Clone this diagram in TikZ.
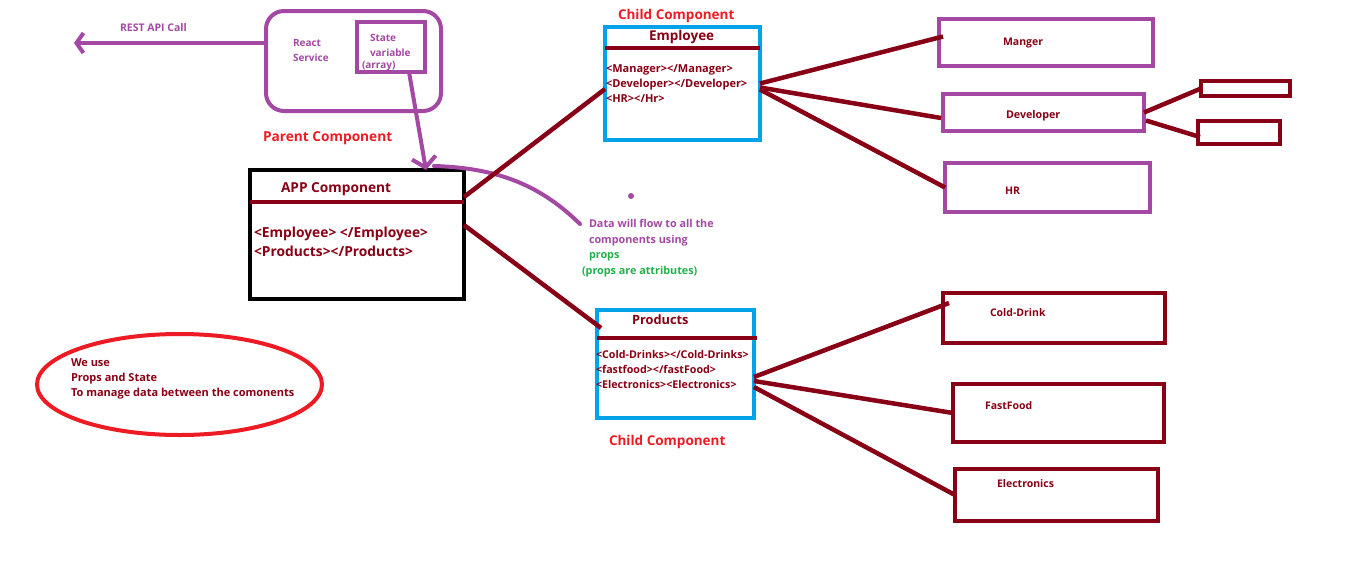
\documentclass[tikz,border=0pt]{standalone}
\usepackage{fontspec}
\setmainfont{Open Sans}
\usetikzlibrary{arrows.meta,calc,shapes.geometric}
\definecolor{ppl}{HTML}{A349A4}
\definecolor{drd}{HTML}{880015}
\definecolor{blu}{HTML}{00A2E8}
\definecolor{rd}{HTML}{ED1C24}
\definecolor{grn}{HTML}{22B14C}
\newcommand\myfs[1]{\fontsize{#1}{#1}\selectfont}
\begin{document}
\begin{tikzpicture}[x=1pt,y=-1pt,
  bx/.style={draw, line width=4pt, inner sep=0, outer sep=0},
  pbox/.style={bx, draw=ppl},
  rbox/.style={bx, draw=drd},
  bbox/.style={bx, draw=blu},
  kbox/.style={bx, draw=black},
  lbl/.style={font=\bfseries\myfs{#1}, inner sep=0, outer sep=0, anchor=mid west, yshift=-2.5pt},
  conn/.style={draw=drd, line width=4.5pt},
  div/.style={draw=drd, line width=4pt}]
\fill[white] (0,0) rectangle (1360,563);
\useasboundingbox (0,0) rectangle (1360,563);

% boxes
\node[pbox, rounded corners=18pt, minimum width=175pt, minimum height=100pt] (svc) at (353.5,61) {};
\node[pbox, minimum width=68pt, minimum height=50pt] (state) at (391,47) {};
\node[kbox, minimum width=214pt, minimum height=129pt] (app) at (357,234.5) {};
\node[bbox, minimum width=155pt, minimum height=113pt] (emp) at (682.5,83.5) {};
\node[bbox, minimum width=157pt, minimum height=108pt] (prod) at (675.5,364) {};
\node[pbox, minimum width=214pt, minimum height=47pt] (mgr) at (1046,42.5) {};
\node[pbox, minimum width=201pt, minimum height=37pt] (dev) at (1043.5,112.5) {};
\node[pbox, minimum width=205pt, minimum height=49pt] (hr) at (1047.5,187.5) {};
\node[rbox, minimum width=89pt, minimum height=15pt] (d1) at (1245.5,88.5) {};
\node[rbox, minimum width=82pt, minimum height=23pt] (d2) at (1239,132.5) {};
\node[rbox, minimum width=222pt, minimum height=50pt] (cold) at (1054,318) {};
\node[rbox, minimum width=211pt, minimum height=58pt] (fast) at (1058.5,413) {};
\node[rbox, minimum width=203pt, minimum height=52pt] (elec) at (1056.5,495) {};
\node[ellipse, draw=rd, line width=4pt, inner sep=0, outer sep=0, minimum width=285pt, minimum height=101pt] (note) at (179.5,384.5) {};

% dividers
\draw[div] ([yshift=-32pt]app.north west) -- ([yshift=-32pt]app.north east);
\draw[div] ([yshift=-21pt]emp.north west) -- ([yshift=-21pt]emp.north east);
\draw[div] ([yshift=-28pt]prod.north west) -- ([yshift=-28pt,xshift=3pt]prod.north east);

% texts
\node[lbl=10.5, text=ppl] (restlbl) at (120,26) {REST API Call};
\node[lbl=10, text=ppl] (react) at (293,41) {React};
\node[lbl=10, text=ppl] (service) at (293,56) {Service};
\node[lbl=10, text=ppl] (st1) at (370,36) {State};
\node[lbl=10, text=ppl] (st2) at (370,51) {variable};
\node[lbl=10, text=ppl] (st3) at (362,63) {(array)};
\node[lbl=13.7, text=rd] (parent) at (263,136) {Parent Component};
\node[lbl=13.7, text=drd] (apptitle) at (281,187) {APP Component};
\node[lbl=13.8, text=drd] (appl1) at (254,232) {<Employee> </Employee>};
\node[lbl=13.8, text=drd] (appl2) at (254,251) {<Products></Products>};
\node[lbl=13.5, text=rd] (child1) at (618,14) {Child Component};
\node[lbl=13.5, text=drd] (emptitle) at (649,35) {Employee};
\node[lbl=11, text=drd] (e1) at (606,67) {<Manager></Manager>};
\node[lbl=11, text=drd] (e2) at (606,82) {<Developer></Developer>};
\node[lbl=11, text=drd] (e3) at (606,97) {<HR></Hr>};
\node[lbl=12.8, text=drd] (prodtitle) at (632,319) {Products};
\node[lbl=10.7, text=drd] (p1) at (596,353) {<Cold-Drinks></Cold-Drinks>};
\node[lbl=10.7, text=drd] (p2) at (596,368) {<fastfood></fastFood>};
\node[lbl=10.7, text=drd] (p3) at (596,383) {<Electronics><Electronics>};
\node[lbl=13.5, text=rd] (child2) at (609,440) {Child Component};
\node[lbl=10.5, text=drd] (mgrt) at (1003,40) {Manger};
\node[lbl=10.7, text=drd] (devt) at (1006,113) {Developer};
\node[lbl=10.5, text=drd] (hrt) at (1005,189) {HR};
\node[lbl=10.5, text=drd] (coldt) at (990,311) {Cold-Drink};
\node[lbl=10.5, text=drd] (fastt) at (985,404) {FastFood};
\node[lbl=10.5, text=drd] (elect) at (997,482) {Electronics};
\node[lbl=10.8, text=ppl] (data1) at (589,222) {Data will flow to all the};
\node[lbl=10.8, text=ppl] (data2) at (589,238) {components using};
\node[lbl=10.8, text=grn] (data3) at (589,253) {props};
\node[lbl=10.8, text=grn] (data4) at (582,269) {(props are attributes)};
\node[lbl=11, text=drd] (n1) at (71,361) {We use};
\node[lbl=11, text=drd] (n2) at (71,376) {Props and State};
\node[lbl=11, text=drd] (n3) at (71,391) {To manage data between the comonents};
\node[circle, fill=ppl, inner sep=0, minimum size=6pt] (dot) at (631,196) {};

% purple arrows and curve
\coordinate (restend) at (74,43);
\coordinate (dataend) at (580,224);
\draw[ppl, line width=4pt, -{Straight Barb[length=7pt,width=20pt]}] ([yshift=18pt]svc.west) -- (restend);
\draw[ppl, line width=4pt, -{Straight Barb[length=10pt,width=24pt]}] ([xshift=18pt]state.south) -- ([xshift=69pt]app.north);
\draw[ppl, line width=4pt, line cap=round] ([xshift=77pt,yshift=4pt]app.north) .. controls (505,168) and (545,190) .. (dataend);

% dark red connectors
\draw[conn] ([yshift=-27pt]app.north east) -- ([yshift=-5.5pt]emp.west);
\draw[conn] ([yshift=9.5pt]app.east) -- ([xshift=4pt,yshift=-18pt]prod.north west);
\draw[conn] (emp.east) -- ([xshift=4pt,yshift=6pt]mgr.west);
\draw[conn] ([yshift=-4pt]emp.east) -- ([xshift=-2pt,yshift=-5.5pt]dev.west);
\draw[conn] ([yshift=-6pt]emp.east) -- (hr.west);
\draw[conn] (dev.east) -- (d1.west);
\draw[conn] ([xshift=2pt,yshift=-8pt]dev.east) -- ([xshift=2pt,yshift=-4.5pt]d2.west);
\draw[conn] ([yshift=-13pt]prod.east) -- ([xshift=6pt,yshift=15pt]cold.west);
\draw[conn] ([yshift=-17pt]prod.east) -- (fast.west);
\draw[conn] ([yshift=-23pt]prod.east) -- (elec.west);
\end{tikzpicture}
\end{document}
